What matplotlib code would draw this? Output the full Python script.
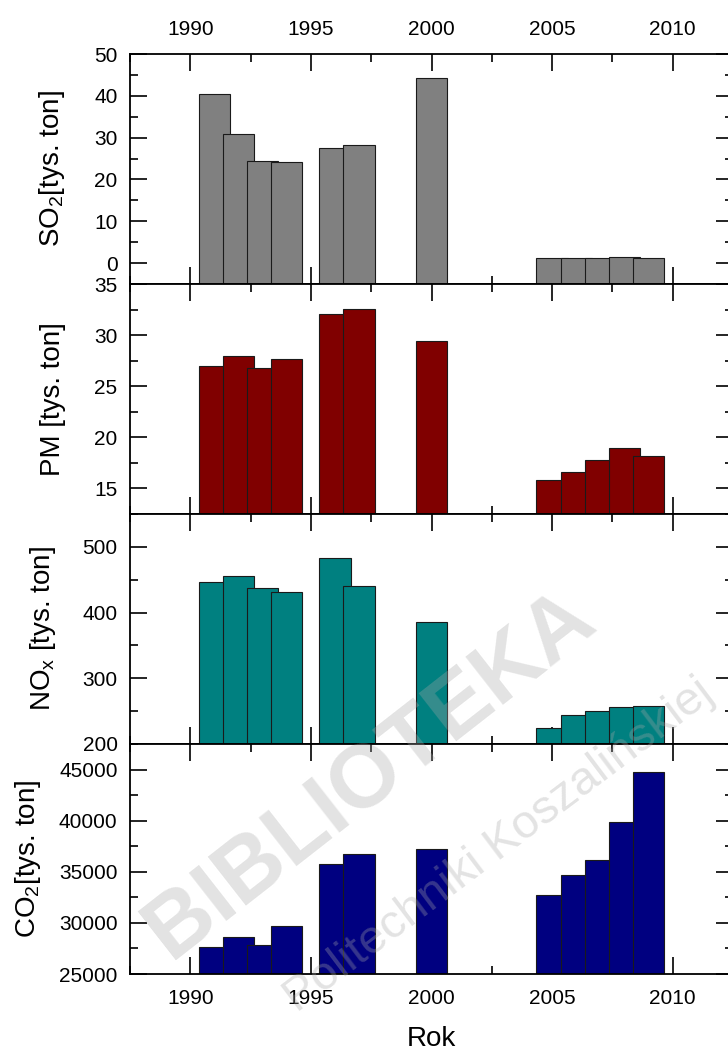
import matplotlib
matplotlib.use("Agg")
import matplotlib.pyplot as plt
from matplotlib.ticker import MultipleLocator

plt.rcParams['font.family'] = ['Liberation Sans', 'DejaVu Sans']
plt.rcParams['mathtext.default'] = 'regular'

# Years with data (Origin-style overlapping bars, later bar drawn on top).
years = [1991, 1992, 1993, 1994, 1996, 1997, 2000, 2005, 2006, 2007, 2008, 2009]

so2 = [40.5, 30.8, 24.4, 24.2, 27.6, 28.3, 44.2, 1.2, 1.3, 1.3, 1.4, 1.3]
pm = [27.0, 28.0, 26.8, 27.7, 32.1, 32.6, 29.4, 15.8, 16.6, 17.8, 19.0, 18.2]
nox = [446, 456, 437, 431, 483, 441, 386, 224, 244, 250, 257, 258]
co2 = [27650, 28600, 27870, 29720, 35780, 36760, 37180, 32750, 34640, 36140, 39890, 44740]

x_ticks = [1990, 1995, 2000, 2005, 2010]

panels = [
    # values, colour, label, ylim, major, minor, label x (axes coords)
    (so2, '#808080', 'SO$_2$[tys. ton]', (-5, 50), 10, 5, -0.104),
    (pm, '#800000', 'PM [tys. ton]', (12.5, 35), 5, 2.5, -0.106),
    (nox, '#008080', 'NO$_x$ [tys. ton]', (200, 550), 100, 50, -0.120),
    (co2, '#000080', 'CO$_2$[tys. ton]', (25000, 47500), 5000, 2500, -0.145),
]

fig = plt.figure(figsize=(7.28, 10.53), dpi=100)

left, width = 130 / 728, 603 / 728
top_px, panel_px = 54, 230

axes = []
for i, (vals, color, label, ylim, major, minor, lx) in enumerate(panels):
    bottom = 1 - (top_px + (i + 1) * panel_px) / 1053
    ax = fig.add_axes([left, bottom, width, panel_px / 1053])
    axes.append(ax)
    ax.set_axisbelow(True)

    # bars start from the bottom of the axis
    for yr, v in zip(years, vals):
        ax.bar(yr, v - ylim[0], bottom=ylim[0], width=1.3, color=color,
               edgecolor='#1a1a1a', linewidth=0.8)

    ax.set_xlim(1987.5, 2012.5)
    ax.set_ylim(*ylim)
    ax.set_xticks(x_ticks)
    ax.xaxis.set_minor_locator(MultipleLocator(2.5))
    ax.yaxis.set_major_locator(MultipleLocator(major))
    ax.yaxis.set_minor_locator(MultipleLocator(minor))

    ax.tick_params(which='both', direction='in', top=True, right=True,
                   labelsize=15, width=1.2)
    ax.tick_params(which='major', length=12)
    ax.tick_params(which='minor', length=6)
    ax.tick_params(axis='y', pad=9)
    ax.tick_params(axis='x', pad=11, labelbottom=False, labeltop=False)

    for s in ax.spines.values():
        s.set_linewidth(1.3)

    ax.set_ylabel(label, fontsize=20)
    ax.yaxis.set_label_coords(lx, 0.5)

axes[0].tick_params(axis='x', labeltop=True)
axes[0].set_yticks([0, 10, 20, 30, 40, 50])
axes[2].set_yticks([200, 300, 400, 500])
axes[3].tick_params(axis='x', labelbottom=True)
axes[3].set_xlabel('Rok', fontsize=20, labelpad=13)

# faint library watermark over the lower panels
fig.text(370 / 728, 1 - 775 / 1053, 'BIBLIOTEKA', fontsize=64,
         fontweight='bold', color='#a8a8a8', alpha=0.32, rotation=38,
         ha='center', va='center', rotation_mode='anchor')
fig.text(708 / 728, 1 - 688 / 1053, 'Politechniki Koszalińskiej', fontsize=34,
         color='#a8a8a8', alpha=0.32, rotation=37, ha='right', va='center',
         rotation_mode='anchor')

fig.savefig('out.png', dpi=100)
